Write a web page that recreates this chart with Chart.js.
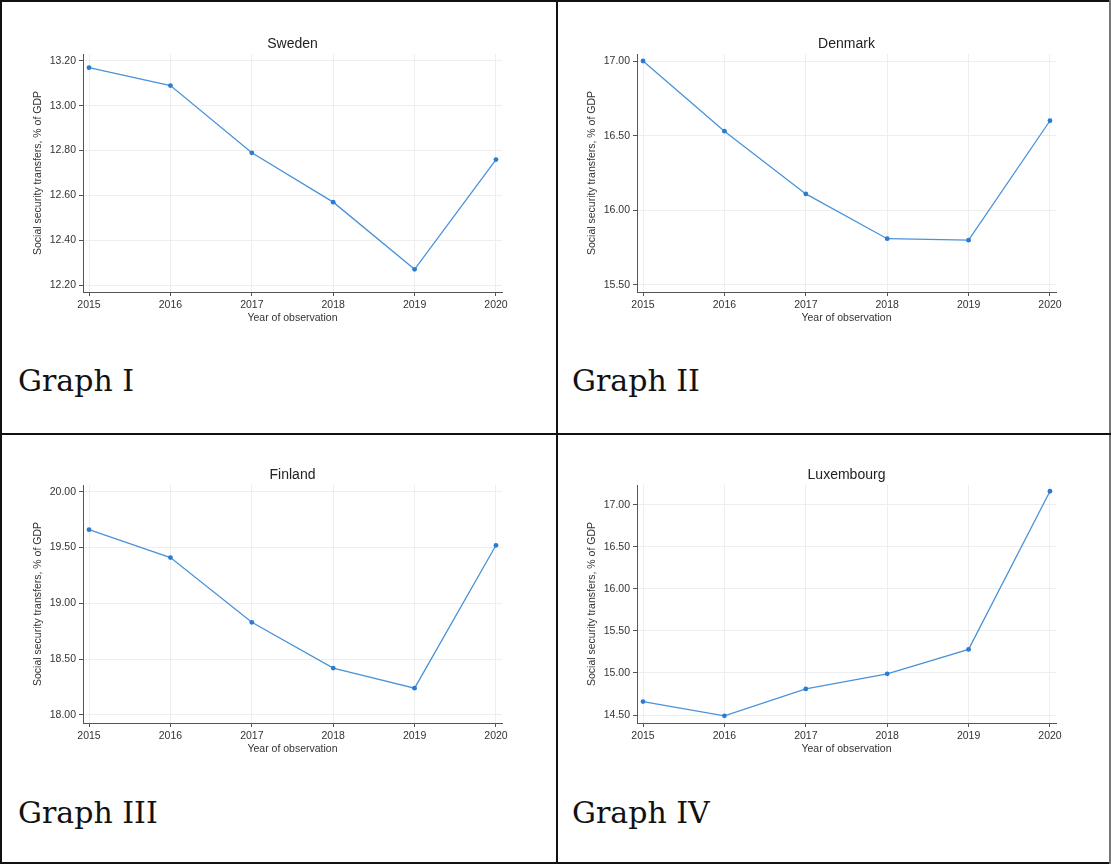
<!DOCTYPE html>
<html>
<head>
<meta charset="utf-8">
<script src="https://cdn.jsdelivr.net/npm/chart.js@4"></script>
<style>
  html, body { margin: 0; padding: 0; background: #fff; }
  #page { position: relative; width: 1111px; height: 864px; overflow: hidden; background: #fff; }
  .panel { position: absolute; width: 556px; height: 340px; }
  .panel canvas { position: absolute; left: 0; top: 0; }
  .caption { position: absolute; font-family: "DejaVu Serif", serif; font-size: 30px; color: #111; white-space: nowrap; }
  .rule { position: absolute; background: #111; }
</style>
</head>
<body>
<div id="page">
  <div class="panel" style="left:0;top:0"><canvas id="c1" width="556" height="340"></canvas></div>
  <div class="panel" style="left:554px;top:0"><canvas id="c2" width="556" height="340"></canvas></div>
  <div class="panel" style="left:0;top:431px"><canvas id="c3" width="556" height="340"></canvas></div>
  <div class="panel" style="left:554px;top:431px"><canvas id="c4" width="556" height="340"></canvas></div>

  <div class="caption" style="left:18px;top:363px">Graph I</div>
  <div class="caption" style="left:572px;top:363px">Graph II</div>
  <div class="caption" style="left:18px;top:795px">Graph III</div>
  <div class="caption" style="left:572px;top:795px">Graph IV</div>

  <div class="rule" style="left:0;top:0;width:1111px;height:2px"></div>
  <div class="rule" style="left:0;top:862px;width:1111px;height:2px"></div>
  <div class="rule" style="left:0;top:0;width:2px;height:864px"></div>
  <div class="rule" style="left:1109px;top:0;width:2px;height:864px;background:#777"></div>
  <div class="rule" style="left:556px;top:0;width:2px;height:864px"></div>
  <div class="rule" style="left:0;top:433px;width:1111px;height:2px"></div>
</div>
<script>
// Social security transfers, % of GDP, by year of observation
const years = [2015, 2016, 2017, 2018, 2019, 2020];

const sweden     = [13.17, 13.09, 12.79, 12.57, 12.27, 12.76];
const denmark    = [17.00, 16.53, 16.11, 15.81, 15.80, 16.60];
const finland    = [19.66, 19.41, 18.83, 18.42, 18.24, 19.52];
const luxembourg = [14.66, 14.49, 14.81, 14.99, 15.28, 17.16];

const swedenTicks     = [12.2, 12.4, 12.6, 12.8, 13.0, 13.2];
const denmarkTicks    = [15.5, 16.0, 16.5, 17.0];
const finlandTicks    = [18.0, 18.5, 19.0, 19.5, 20.0];
const luxembourgTicks = [14.5, 15.0, 15.5, 16.0, 16.5, 17.0];

const FONT = "'Liberation Sans', Arial, sans-serif";
const TEXT = '#333';
const AXIS = '#555';
const GRID = '#eeeeee';
const LINE = '#4a93d8';
const DOT  = '#2b7bd0';

function makeChart(id, title, values, ticks, yMin, yMax) {
  return new Chart(document.getElementById(id), {
    type: 'line',
    data: {
      datasets: [{
        data: years.map((y, i) => ({ x: y, y: values[i] })),
        borderColor: LINE,
        borderWidth: 1.3,
        backgroundColor: DOT,
        pointBackgroundColor: DOT,
        pointBorderColor: DOT,
        pointRadius: 2.4,
        pointBorderWidth: 0,
        tension: 0,
        fill: false
      }]
    },
    options: {
      responsive: false,
      animation: false,
      devicePixelRatio: 1,
      layout: { padding: { left: 31.7, right: 54, top: 35.6, bottom: 15.7 } },
      plugins: {
        legend: { display: false },
        tooltip: { enabled: false },
        title: {
          display: true,
          text: title,
          fullSize: false,
          color: '#222',
          font: { family: FONT, size: 14, weight: 'normal', lineHeight: 1.2 },
          padding: { top: 0, bottom: 1.6 }
        }
      },
      scales: {
        x: {
          type: 'linear',
          min: 2014.926,
          max: 2020.074,
          afterBuildTicks: s => { s.ticks = years.map(v => ({ value: v })); },
          afterFit: s => { s.height = 32.3; },
          grid: { color: GRID, lineWidth: 1, drawTicks: true, tickLength: 4, tickColor: AXIS },
          border: { display: true, color: AXIS, width: 1 },
          ticks: {
            color: TEXT,
            padding: 3,
            maxRotation: 0,
            autoSkip: false,
            font: { family: FONT, size: 10.5 },
            callback: v => String(v)
          },
          title: {
            display: true,
            text: 'Year of observation',
            color: TEXT,
            padding: 0,
            font: { family: FONT, size: 10.5, lineHeight: 1.2 }
          }
        },
        y: {
          type: 'linear',
          min: yMin,
          max: yMax,
          afterBuildTicks: s => { s.ticks = ticks.map(v => ({ value: v })); },
          afterFit: s => { s.width = 51.3; },
          grid: { color: GRID, lineWidth: 1, drawTicks: true, tickLength: 4, tickColor: AXIS },
          border: { display: true, color: AXIS, width: 1 },
          ticks: {
            color: TEXT,
            padding: 3,
            autoSkip: false,
            font: { family: FONT, size: 10.5 },
            callback: v => Number(v).toFixed(2)
          },
          title: {
            display: true,
            text: 'Social security transfers, % of GDP',
            color: TEXT,
            padding: 0,
            font: { family: FONT, size: 10.5, lineHeight: 1.2 }
          }
        }
      }
    }
  });
}

makeChart('c1', 'Sweden', sweden, swedenTicks, 12.169, 13.231);
makeChart('c2', 'Denmark', denmark, denmarkTicks, 15.453, 17.047);
makeChart('c3', 'Finland', finland, finlandTicks, 17.928, 20.06);
makeChart('c4', 'Luxembourg', luxembourg, luxembourgTicks, 14.405, 17.234);
</script>
</body>
</html>
